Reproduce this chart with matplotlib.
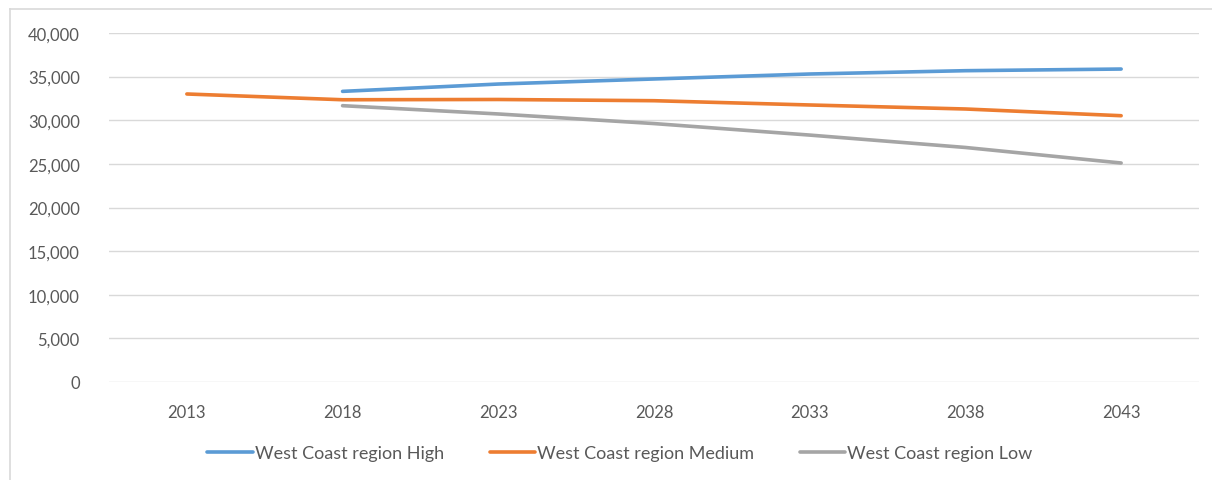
import matplotlib
matplotlib.use("Agg")
import matplotlib.pyplot as plt
from matplotlib.lines import Line2D
from matplotlib.ticker import FuncFormatter

years = ["2013", "2018", "2023", "2028", "2033", "2038", "2043"]
high = [None, 33310, 34150, 34730, 35300, 35680, 35870]
medium = [33010, 32350, 32380, 32240, 31750, 31290, 30520]
low = [None, 31670, 30720, 29620, 28300, 26880, 25100]
series_names = ["West Coast region High", "West Coast region Medium", "West Coast region Low"]
colors = ["#5B9BD5", "#ED7D31", "#A5A5A5"]

plt.rcParams['font.family'] = ['Lato', 'DejaVu Sans']

W, H = 1212, 481
fig = plt.figure(figsize=(W / 100, H / 100), dpi=100)
ax = fig.add_axes([109 / W, 1 - 383 / H, (1199 - 109) / W, (383 - 34) / H])

x = list(range(len(years)))
for vals, name, c in zip([high, medium, low], series_names, colors):
    xs = [i for i, v in zip(x, vals) if v is not None]
    ys = [v for v in vals if v is not None]
    ax.plot(xs, ys, color=c, lw=2.6, solid_capstyle='round', solid_joinstyle='round', label=name)

ax.set_xlim(-0.5, len(years) - 0.5)
ax.set_ylim(0, 40000)
ax.set_yticks(range(0, 40001, 5000))
ax.yaxis.set_major_formatter(FuncFormatter(lambda v, p: f"{int(v):,}"))
ax.set_xticks(x)
ax.set_xticklabels(years)
ax.grid(axis='y', color='#d9d9d9', lw=1)
ax.set_axisbelow(True)
for s in ax.spines.values():
    s.set_visible(False)
ax.tick_params(axis='both', length=0, colors='#595959', labelsize=12)
ax.tick_params(axis='y', pad=21)
ax.tick_params(axis='x', pad=16)

leg = fig.legend(loc='center', bbox_to_anchor=(620 / W, 1 - 454 / H), ncol=3, frameon=False,
                 fontsize=13, handlelength=2.5, handletextpad=0.15, columnspacing=2.5)
for t in leg.get_texts():
    t.set_color('#595959')

# outer chart border (left and top visible)
fig.add_artist(Line2D([10 / W, 10 / W], [0, 1 - 10 / H], transform=fig.transFigure, color='#d9d9d9', lw=1.2))
fig.add_artist(Line2D([10 / W, 1], [1 - 10 / H, 1 - 10 / H], transform=fig.transFigure, color='#d9d9d9', lw=1.2))

fig.savefig("out.png", dpi=100, facecolor='white')
